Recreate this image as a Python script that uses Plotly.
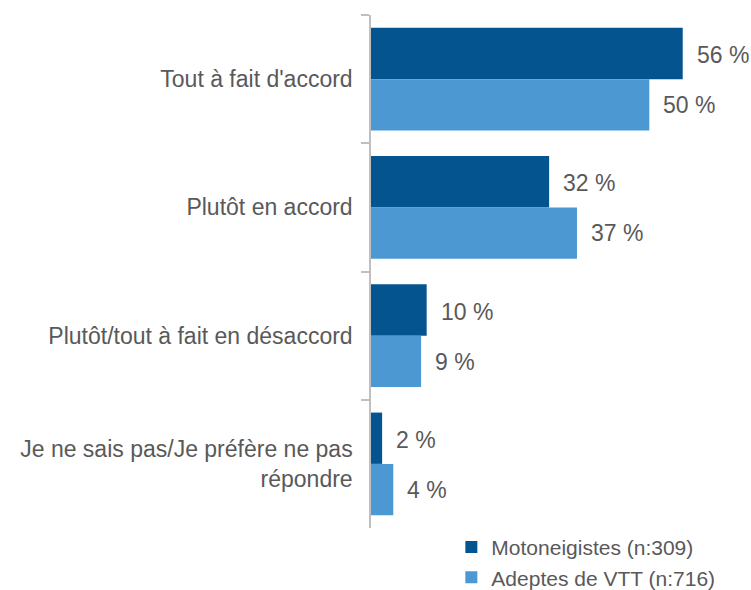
import plotly.graph_objects as go

categories = [
    "Tout à fait d'accord",
    "Plutôt en accord",
    "Plutôt/tout à fait en désaccord",
    "Je ne sais pas/Je préfère ne pas<br>répondre",
]
moto_values = [56, 32, 10, 2]
vtt_values = [50, 37, 9, 4]
series_names = ["Motoneigistes (n:309)", "Adeptes de VTT (n:716)"]
colors = ["#03548F", "#4B98D2"]

FONT = "Arial, 'Liberation Sans', sans-serif"
TXT = "#595959"

fig = go.Figure()
for name, vals, col in zip(series_names, [moto_values, vtt_values], colors):
    fig.add_trace(go.Bar(
        y=categories, x=vals, name=name, orientation="h",
        marker=dict(color=col, line=dict(width=0)),
        hoverinfo="skip",
    ))

annotations = []
for vals, shift in [(moto_values, 24), (vtt_values, -26)]:
    for cat, v in zip(categories, vals):
        annotations.append(dict(
            x=v, y=cat, xref="x", yref="y", text=f"{v} %",
            showarrow=False, xanchor="left", yanchor="middle",
            xshift=12, yshift=shift,
            font=dict(family=FONT, size=23, color=TXT),
        ))

fig.update_layout(
    width=751, height=590,
    margin=dict(l=371, r=46, t=15, b=62, autoexpand=False),
    paper_bgcolor="white", plot_bgcolor="white",
    barmode="group", bargap=0.2, bargroupgap=0,
    font=dict(family=FONT, size=23, color=TXT),
    showlegend=True,
    legend=dict(
        orientation="v", xref="container", yref="container",
        x=0.601, xanchor="left", y=0.107, yanchor="top",
        font=dict(family=FONT, size=21, color=TXT),
        traceorder="normal", bgcolor="rgba(0,0,0,0)",
        itemwidth=30, tracegroupgap=0,
    ),
    annotations=annotations,
)
fig.update_xaxes(range=[0, 60], visible=False, showgrid=False, zeroline=False)
fig.update_yaxes(
    autorange="reversed", showline=True, linecolor="#BFBFBF", linewidth=1.5,
    ticks="outside", ticklen=8, tickcolor="#BFBFBF", tickwidth=1.5,
    tickson="boundaries", showgrid=False, zeroline=False,
    tickfont=dict(family=FONT, size=23, color=TXT),
    ticklabelstandoff=12, automargin=False,
)

fig.write_html("out.html", config={"displayModeBar": False},
               post_script="document.body.style.margin='0';")
